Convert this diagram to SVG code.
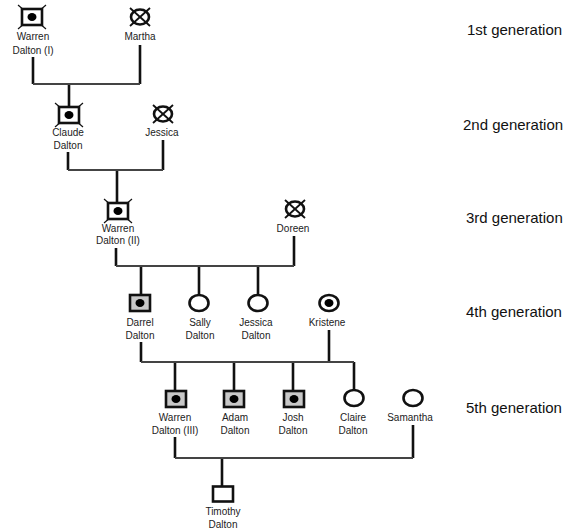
<svg xmlns="http://www.w3.org/2000/svg" xmlns:xlink="http://www.w3.org/1999/xlink" width="573" height="532" viewBox="0 0 573 532">
<style>
.name{font-family:"Liberation Sans",Arial,sans-serif;font-size:10px;fill:#222;text-anchor:middle}
.gen{font-family:"Liberation Sans",Arial,sans-serif;font-size:15px;fill:#111}
.v{stroke:#111;stroke-width:2.6;fill:none}
.h{stroke:#444;stroke-width:2.2;fill:none}
.box{stroke:#111;stroke-width:2.6}
.spike{stroke:#111;stroke-width:1.2}
</style>
<defs>
<g id="decMale">
<line class="spike" x1="-14" y1="-12" x2="14" y2="12"/>
<line class="spike" x1="-14" y1="12" x2="14" y2="-12"/>
<rect class="box" x="-10" y="-8" width="20" height="16" fill="#fff"/>
<ellipse cx="0" cy="0" rx="4.5" ry="4" fill="#000"/>
</g>
<g id="decFemale">
<line stroke="#111" stroke-width="1.8" x1="-10" y1="-9" x2="10" y2="9"/>
<line stroke="#111" stroke-width="1.8" x1="-10" y1="9" x2="10" y2="-9"/>
<ellipse class="box" cx="0" cy="0" rx="9" ry="7.5" fill="none"/>
</g>
<g id="affMale">
<rect class="box" x="-10" y="-8" width="20" height="16" fill="#c8c8c8"/>
<ellipse cx="0" cy="0" rx="4.5" ry="4" fill="#000"/>
</g>
<g id="female">
<ellipse class="box" cx="0" cy="0" rx="9.5" ry="8" fill="#fff"/>
</g>
<g id="carFemale">
<ellipse class="box" cx="0" cy="0" rx="9.5" ry="8" fill="#fff"/>
<ellipse cx="0" cy="0" rx="4.5" ry="4" fill="#000"/>
</g>
<g id="male">
<rect class="box" x="-10" y="-7.5" width="20" height="15" fill="#fff"/>
</g>
</defs>

<g id="connectors">
<path class="v" d="M33 57V84M140 45V84M69 84V107"/>
<path class="h" d="M33 84H140"/>
<path class="v" d="M68 152V170M163 140V170M117 170V203"/>
<path class="h" d="M68 170H163"/>
<path class="v" d="M116 248V266M294 236V266M141 266V295M199 266V295M258 266V295"/>
<path class="h" d="M116 266H294"/>
<path class="v" d="M141 342V362M329 330V362M175 362V391M234 362V391M293 362V391M354 362V390"/>
<path class="h" d="M141 362H354"/>
<path class="v" d="M175 437V458M413 425V458M222 458V487"/>
<path class="h" d="M175 458H413"/>
</g>

<g id="warren1"><use xlink:href="#decMale" x="32" y="17"/><text class="name" x="33" y="40">Warren</text><text class="name" x="33" y="53.5">Dalton (I)</text></g>
<g id="martha"><use xlink:href="#decFemale" x="140" y="17"/><text class="name" x="140" y="40">Martha</text></g>

<g id="claude"><use xlink:href="#decMale" x="69" y="115"/><text class="name" x="68" y="136">Claude</text><text class="name" x="68" y="148.5">Dalton</text></g>
<g id="jessica1"><use xlink:href="#decFemale" x="163" y="114"/><text class="name" x="162" y="136">Jessica</text></g>

<g id="warren2"><use xlink:href="#decMale" x="118" y="211"/><text class="name" x="118" y="232">Warren</text><text class="name" x="118" y="244">Dalton (II)</text></g>
<g id="doreen"><use xlink:href="#decFemale" x="295" y="209"/><text class="name" x="293" y="232">Doreen</text></g>

<g id="darrel"><use xlink:href="#affMale" x="140" y="303"/><text class="name" x="140" y="326">Darrel</text><text class="name" x="140" y="339">Dalton</text></g>
<g id="sally"><use xlink:href="#female" x="199" y="303"/><text class="name" x="200" y="326">Sally</text><text class="name" x="200" y="339">Dalton</text></g>
<g id="jessica2"><use xlink:href="#female" x="258" y="303"/><text class="name" x="256" y="326">Jessica</text><text class="name" x="256" y="339">Dalton</text></g>
<g id="kristene"><use xlink:href="#carFemale" x="329" y="303"/><text class="name" x="327" y="326">Kristene</text></g>

<g id="warren3"><use xlink:href="#affMale" x="176" y="399"/><text class="name" x="175" y="421">Warren</text><text class="name" x="175" y="434">Dalton (III)</text></g>
<g id="adam"><use xlink:href="#affMale" x="234" y="399"/><text class="name" x="235" y="421">Adam</text><text class="name" x="235" y="434">Dalton</text></g>
<g id="josh"><use xlink:href="#affMale" x="294" y="399"/><text class="name" x="293" y="421">Josh</text><text class="name" x="293" y="434">Dalton</text></g>
<g id="claire"><use xlink:href="#female" x="354" y="398"/><text class="name" x="353" y="421">Claire</text><text class="name" x="353" y="434">Dalton</text></g>
<g id="samantha"><use xlink:href="#female" x="413" y="398"/><text class="name" x="410" y="421">Samantha</text></g>

<g id="timothy"><use xlink:href="#male" x="223" y="494"/><text class="name" x="223" y="515">Timothy</text><text class="name" x="223" y="528">Dalton</text></g>

<g id="labels">
<text class="gen" x="467" y="35">1st generation</text>
<text class="gen" x="463" y="130">2nd generation</text>
<text class="gen" x="466" y="223">3rd generation</text>
<text class="gen" x="466" y="317">4th generation</text>
<text class="gen" x="466" y="413">5th generation</text>
</g>
</svg>
